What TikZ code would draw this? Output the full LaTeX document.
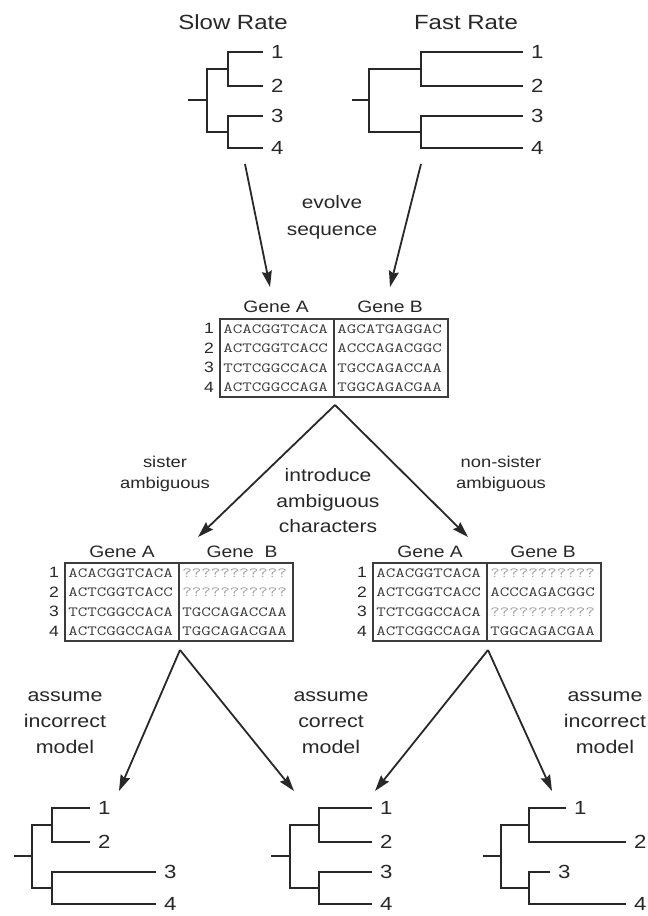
\documentclass[tikz,border=0pt]{standalone}
\usepackage{fontspec}
\setmainfont{Liberation Sans}
\usetikzlibrary{arrows.meta}
\definecolor{ink}{RGB}{40, 40, 40}
\definecolor{frame}{RGB}{60, 60, 60}
\definecolor{known}{RGB}{60, 60, 60}
\definecolor{unknown}{RGB}{160, 160, 160}

\begin{document}
\begin{tikzpicture}[x=1pt, y=-1pt,
    branch/.style={draw=ink, line width=1.8pt},
    flow/.style={draw=ink, line width=1.8pt, -{Stealth[length=16pt, width=10pt, inset=2pt]}},
    cell/.style={draw=frame, line width=1.4pt},
    taxon/.style={anchor=west, inner sep=0pt, text=ink, xscale=1.17,
                  font=\fontsize{19}{19}\selectfont},
    heading/.style={anchor=base, inner sep=0pt, text=ink, xscale=1.17,
                    font=\fontsize{20.5}{20.5}\selectfont},
    gene/.style={anchor=base, inner sep=0pt, text=ink, xscale=1.17,
                 font=\fontsize{16.5}{16.5}\selectfont},
    rownum/.style={inner sep=0pt, text=ink, xscale=1.17,
                   font=\fontsize{15}{15}\selectfont},
    bases/.style={anchor=west, inner sep=0pt, xscale=1.32,
                  font=\ttfamily\fontsize{14}{14}\selectfont},
    remark/.style={inner sep=0pt, text=ink, xscale=1.17, align=center}
  ]

  \useasboundingbox (0, 0) rectangle (648, 916);
  \fill[white] (0, 0) rectangle (648, 916);

  \node[heading] (slowtitle) at (233, 29) {Slow Rate};
  \node[heading] (fasttitle) at (466, 29) {Fast Rate};

  \begin{scope}[shift={(188, 100)}]
    \draw[branch] (0, 0) -- (19, 0);
    \draw[branch] (40, -31) -| (19, 32) -- (40, 32);
    \draw[branch] (75, -48) -| (40, -14) -- (75, -14);
    \draw[branch] (75, 16) -| (40, 48) -- (75, 48);
    \foreach \t/\y in {1/-48, 2/-14, 3/16, 4/48}
      \node[taxon] (slow\t) at (83, \y) {\t};
  \end{scope}

  \begin{scope}[shift={(352, 100)}]
    \draw[branch] (0, 0) -- (17, 0);
    \draw[branch] (69, -31) -| (17, 32) -- (69, 32);
    \draw[branch] (171, -48) -| (69, -14) -- (171, -14);
    \draw[branch] (171, 16) -| (69, 48) -- (171, 48);
    \foreach \t/\y in {1/-48, 2/-14, 3/16, 4/48}
      \node[taxon] (fast\t) at (179, \y) {\t};
  \end{scope}

  \coordinate (slowfoot) at (245, 164);
  \coordinate (fastfoot) at (421, 164);
  \coordinate (mainheadA) at (270, 287);
  \coordinate (mainheadB) at (390, 287);

  \draw[flow] (slowfoot) -- (mainheadA);
  \draw[flow] (fastfoot) -- (mainheadB);

  \node[remark, font=\fontsize{17.8}{27}\selectfont] (evolve) at (332, 217)
    {evolve\\sequence};

  % simulated alignment
  \begin{scope}[shift={(220, 319)}]
    \draw[cell] (0, 0) rectangle (228, 78);
    \draw[cell] (114, 0) -- (114, 78);
    \node[gene] (mainA) at (56, -7) {Gene A};
    \node[gene] (mainB) at (170, -7) {Gene B};
    \foreach \r/\sa/\sb/\cb in {1/ACACGGTCACA/AGCATGAGGAC/known,
                                2/ACTCGGTCACC/ACCCAGACGGC/known,
                                3/TCTCGGCCACA/TGCCAGACCAA/known,
                                4/ACTCGGCCAGA/TGGCAGACGAA/known} {
      \pgfmathsetmacro{\yr}{9.75 + 19.5 * (\r - 1)}
      \node[rownum] (mainrow\r) at (-11, \yr) {\r};
      \node[bases, text=known] (mainseqA\r) at (3, \yr) {\sa};
      \node[bases, text=\cb] (mainseqB\r) at (117, \yr) {\sb};
    }
  \end{scope}

  \coordinate (mainfoot) at (335, 405);
  \coordinate (sisterhead) at (198, 537);
  \coordinate (nonsisterhead) at (468, 537);

  \draw[flow] (mainfoot) -- (sisterhead);
  \draw[flow] (mainfoot) -- (nonsisterhead);

  \node[remark, font=\fontsize{15.7}{20.5}\selectfont] (sister) at (165, 474)
    {sister\\ambiguous};
  \node[remark, font=\fontsize{18}{25.5}\selectfont] (introduce) at (328, 501)
    {introduce\\ambiguous\\characters};
  \node[remark, font=\fontsize{15.7}{20.5}\selectfont] (nonsister) at (501, 474)
    {non-sister\\ambiguous};

  \begin{scope}[shift={(65, 563)}]
    \draw[cell] (0, 0) rectangle (228, 78);
    \draw[cell] (114, 0) -- (114, 78);
    \node[gene] (sisA) at (57, -6) {Gene A};
    \node[gene] (sisB) at (177, -6) {Gene~ B};
    \foreach \r/\sa/\sb/\cb in {1/ACACGGTCACA/???????????/unknown,
                                2/ACTCGGTCACC/???????????/unknown,
                                3/TCTCGGCCACA/TGCCAGACCAA/known,
                                4/ACTCGGCCAGA/TGGCAGACGAA/known} {
      \pgfmathsetmacro{\yr}{9.75 + 19.5 * (\r - 1)}
      \node[rownum] (sisrow\r) at (-11, \yr) {\r};
      \node[bases, text=known] (sisseqA\r) at (3, \yr) {\sa};
      \node[bases, text=\cb] (sisseqB\r) at (117, \yr) {\sb};
    }
  \end{scope}

  \begin{scope}[shift={(373, 563)}]
    \draw[cell] (0, 0) rectangle (228, 78);
    \draw[cell] (114, 0) -- (114, 78);
    \node[gene] (nonA) at (57, -6) {Gene A};
    \node[gene] (nonB) at (170, -6) {Gene B};
    \foreach \r/\sa/\sb/\cb in {1/ACACGGTCACA/???????????/unknown,
                                2/ACTCGGTCACC/ACCCAGACGGC/known,
                                3/TCTCGGCCACA/???????????/unknown,
                                4/ACTCGGCCAGA/TGGCAGACGAA/known} {
      \pgfmathsetmacro{\yr}{9.75 + 19.5 * (\r - 1)}
      \node[rownum] (nonrow\r) at (-11, \yr) {\r};
      \node[bases, text=known] (nonseqA\r) at (3, \yr) {\sa};
      \node[bases, text=\cb] (nonseqB\r) at (117, \yr) {\sb};
    }
  \end{scope}

  \coordinate (sisterfoot) at (180, 650);
  \coordinate (nonsisterfoot) at (488, 650);
  \coordinate (wrongheadA) at (119, 791);
  \coordinate (rightheadA) at (294, 791);
  \coordinate (rightheadB) at (375, 791);
  \coordinate (wrongheadB) at (552, 791);

  \draw[flow] (sisterfoot) -- (wrongheadA);
  \draw[flow] (sisterfoot) -- (rightheadA);
  \draw[flow] (nonsisterfoot) -- (rightheadB);
  \draw[flow] (nonsisterfoot) -- (wrongheadB);

  \node[remark, font=\fontsize{18.3}{26}\selectfont] (wrongA) at (65, 723)
    {assume\\incorrect\\model};
  \node[remark, font=\fontsize{18.3}{26}\selectfont] (right) at (331, 723)
    {assume\\correct\\model};
  \node[remark, font=\fontsize{18.3}{26}\selectfont] (wrongB) at (605, 723)
    {assume\\incorrect\\model};

  % inferred trees
  \begin{scope}[shift={(14, 856)}]
    \draw[branch] (0, 0) -- (18, 0);
    \draw[branch] (38, -31) -| (18, 32) -- (38, 32);
    \draw[branch] (76, -48) -| (38, -14) -- (76, -14);
    \draw[branch] (142, 16) -| (38, 48) -- (142, 48);
    \foreach \t/\x/\y in {1/76/-48, 2/76/-14, 3/142/16, 4/142/48}
      \node[taxon] (wrongA\t) at (\x + 8, \y) {\t};
  \end{scope}

  \begin{scope}[shift={(271, 856)}]
    \draw[branch] (0, 0) -- (19, 0);
    \draw[branch] (48, -31) -| (19, 32) -- (48, 32);
    \draw[branch] (101, -48) -| (48, -14) -- (101, -14);
    \draw[branch] (101, 16) -| (48, 48) -- (101, 48);
    \foreach \t/\x/\y in {1/101/-48, 2/101/-14, 3/101/16, 4/101/48}
      \node[taxon] (right\t) at (\x + 8, \y) {\t};
  \end{scope}

  \begin{scope}[shift={(483, 856)}]
    \draw[branch] (0, 0) -- (18, 0);
    \draw[branch] (46, -31) -| (18, 32) -- (46, 32);
    \draw[branch] (83, -48) -| (46, -14) -- (143, -14);
    \draw[branch] (67, 16) -| (46, 48) -- (143, 48);
    \foreach \t/\x/\y in {1/83/-48, 2/143/-14, 3/67/16, 4/143/48}
      \node[taxon] (wrongB\t) at (\x + 8, \y) {\t};
  \end{scope}

\end{tikzpicture}
\end{document}
